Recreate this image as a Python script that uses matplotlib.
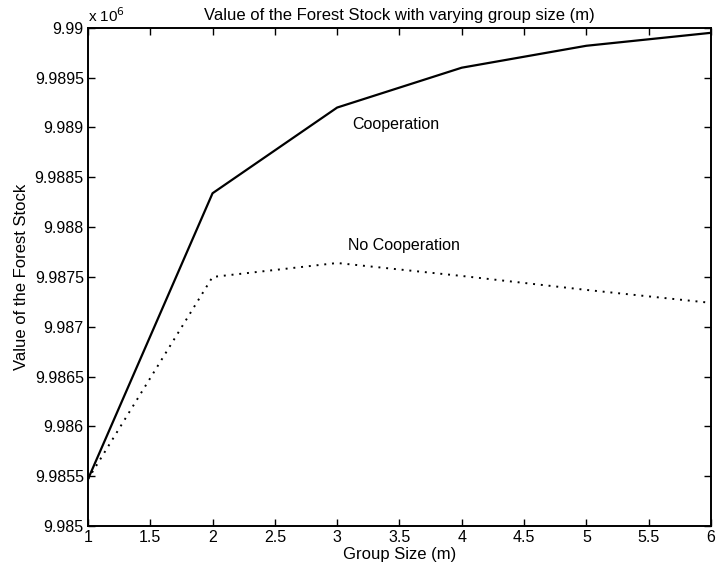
import matplotlib.pyplot as plt
from matplotlib.ticker import FuncFormatter

# Data (values in units of 10^6)
group_size = [1, 2, 3, 4, 5, 6]
cooperation = [9.98547, 9.98834, 9.98920, 9.98960, 9.98982, 9.98995]
no_cooperation = [9.98547, 9.98750, 9.98764, 9.98751, 9.98737, 9.98724]

x_ticks = [1, 1.5, 2, 2.5, 3, 3.5, 4, 4.5, 5, 5.5, 6]
y_ticks = [9.985, 9.9855, 9.986, 9.9865, 9.987, 9.9875, 9.988, 9.9885, 9.989, 9.9895, 9.99]

plt.rcParams['font.family'] = ['Liberation Sans', 'DejaVu Sans']

fig = plt.figure(figsize=(7.21, 5.8), dpi=100)
ax = fig.add_axes([0.122, 0.093, 0.864, 0.859])

ax.plot(group_size, cooperation, color='black', linewidth=1.6, linestyle='-')
ax.plot(group_size, no_cooperation, color='black', linewidth=1.4, linestyle=(0, (1, 3)))

ax.set_xlim(1, 6)
ax.set_ylim(9.985, 9.99)
ax.set_xticks(x_ticks)
ax.set_yticks(y_ticks)
ax.xaxis.set_major_formatter(FuncFormatter(lambda v, p: f"{v:g}"))
ax.yaxis.set_major_formatter(FuncFormatter(lambda v, p: f"{v:g}"))
ax.tick_params(direction='in', length=5, width=1.0, top=True, right=True,
               labelsize=11.5, pad=3)
for side in ax.spines.values():
    side.set_linewidth(1.4)

ax.text(3.12, 9.98903, "Cooperation", fontsize=11.5, va='center', ha='left')
ax.text(3.09, 9.98782, "No Cooperation", fontsize=11.5, va='center', ha='left')

ax.set_title("Value of the Forest Stock with varying group size (m)", fontsize=12, pad=6)
ax.set_xlabel("Group Size (m)", fontsize=12, labelpad=1)
ax.set_ylabel("Value of the Forest Stock", fontsize=12, labelpad=4)
ax.text(0.0, 1.005, r"x 10$^6$", transform=ax.transAxes, fontsize=11,
        ha='left', va='bottom')

fig.savefig("out.png", dpi=100)
